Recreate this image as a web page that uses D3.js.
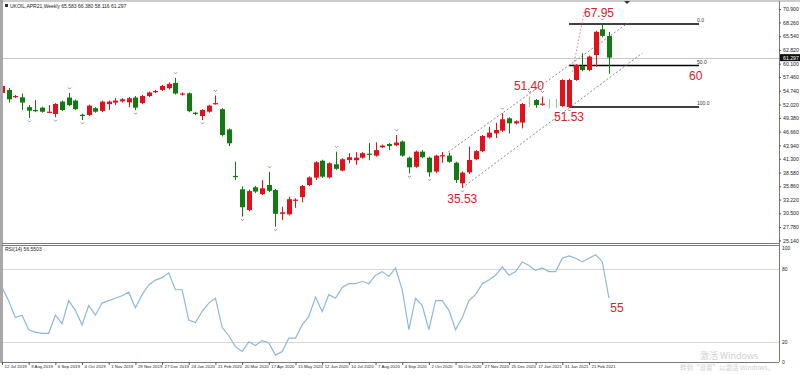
<!DOCTYPE html>
<html><head><meta charset="utf-8">
<script src="https://cdn.jsdelivr.net/npm/d3@7"></script>
<style>body{margin:0;background:#fff}svg{display:block}</style>
</head><body>
<svg id="c" width="800" height="375"></svg>
<script>
// ---------- DATA ----------
const title = "UKOIL,APR21,Weekly  65.583 66.380 58.116 61.297";
const rsiTitle = "RSI(14) 56.5503";
const dateLabels = ["12 Jul 2019","9 Aug 2019","6 Sep 2019","4 Oct 2019","1 Nov 2019","29 Nov 2019","27 Dec 2019","24 Jan 2020","21 Feb 2020","20 Mar 2020","17 Apr 2020","15 May 2020","12 Jun 2020","10 Jul 2020","7 Aug 2020","4 Sep 2020","2 Oct 2020","30 Oct 2020","27 Nov 2020","25 Dec 2020","17 Jan 2021","31 Jan 2021","21 Feb 2021"];
const labelEvery = 4;
const priceTicks = [70.900,68.260,65.540,62.820,60.100,57.460,54.740,52.020,49.380,46.660,43.940,41.300,38.580,35.860,33.220,30.500,27.780,25.140];
const rsiTicks = [100,80,20,0];
const lastPrice = 61.297;
const opens  = [54.30,54.89,53.50,53.45,51.50,50.94,51.40,50.40,50.15,52.60,53.40,52.80,50.00,49.95,51.30,50.75,52.10,52.40,52.65,52.45,53.40,52.30,53.70,54.50,54.90,55.25,56.30,54.00,54.25,50.40,49.75,50.60,52.10,51.10,47.10,37.90,35.25,31.15,35.65,34.30,36.10,35.10,30.40,30.30,33.00,33.70,36.10,37.55,40.90,37.60,40.20,38.95,41.05,41.00,41.50,42.30,41.90,43.55,44.20,43.95,44.70,41.50,39.70,42.70,41.50,38.75,41.80,41.90,40.50,36.45,38.60,41.20,42.80,45.50,46.30,46.85,49.30,48.30,48.45,52.40,52.90,52.00,52.05,52.05,51.70,51.53,56.87,59.64,58.85,61.82,66.90,65.583];
const highs  = [56.10,55.30,53.90,54.20,51.90,52.90,51.60,51.90,52.30,52.80,54.30,53.00,50.20,52.00,51.50,52.80,52.80,53.30,53.30,53.50,53.70,53.90,54.60,54.90,55.90,56.40,57.30,54.40,54.40,50.60,51.10,52.00,53.80,51.30,47.30,40.70,35.80,35.20,35.90,37.10,38.70,35.30,31.80,33.80,33.50,36.10,37.80,40.80,41.10,40.60,42.70,41.40,42.40,42.60,42.60,44.40,44.55,44.10,44.40,46.00,44.90,41.70,42.90,43.00,41.70,42.10,42.60,42.50,40.70,38.80,43.70,43.00,46.00,47.60,48.40,50.30,49.50,48.90,52.30,53.60,53.10,53.60,53.10,53.10,57.00,57.10,60.00,62.15,61.70,66.60,67.95,66.380];
const lows   = [53.90,52.40,53.30,50.94,49.35,50.50,50.40,50.30,49.50,50.70,51.70,50.90,48.96,49.70,50.40,50.50,50.94,51.90,52.40,51.50,50.90,52.10,53.50,54.30,54.70,55.00,54.00,53.80,50.50,49.90,48.96,50.40,52.00,45.70,43.80,37.10,29.85,30.90,34.50,34.10,34.70,27.85,29.20,30.10,31.60,32.70,35.90,37.10,37.50,37.40,39.10,38.80,40.40,40.10,41.30,41.00,41.70,43.40,43.00,43.80,41.70,38.40,39.50,41.40,37.75,38.50,40.50,40.50,36.50,35.53,38.30,41.00,42.60,45.30,45.40,46.60,46.30,48.10,47.30,51.50,51.35,51.80,51.30,51.30,51.50,51.53,56.70,58.60,58.60,59.50,65.30,58.116];
const closes = [55.69,53.05,53.70,52.40,50.80,50.70,50.60,50.60,52.13,50.94,51.90,51.10,49.80,51.80,50.60,52.60,52.60,52.80,53.05,53.25,51.40,53.70,54.40,54.70,55.70,56.10,54.20,54.20,50.70,50.15,50.94,51.80,52.30,45.99,44.35,37.70,31.70,34.90,34.80,35.45,34.95,30.40,30.70,33.30,33.20,35.90,37.60,40.60,37.75,40.40,39.30,41.20,41.60,41.50,42.40,42.10,43.00,43.90,43.80,44.50,41.90,39.60,42.70,41.60,38.60,41.90,42.00,40.70,37.10,38.55,41.05,42.80,45.80,46.45,46.98,49.10,48.30,48.70,52.13,52.30,51.90,52.20,51.95,51.95,56.87,56.87,59.84,58.85,61.50,66.40,65.60,61.297];
const lightBars = [79,82,83];
const fractalUp = [10,26,32,40,50,59,75,79,81,90];
const fractalDown = [4,8,12,20,30,36,41,61,64,69,85];
const rsi = [65,54,40,42,30,28,27,27,42,35,54,46,34,50,42,52,54,56,58,61,48,59,67,71,73,77,63,63,38,36,45,52,56,32,25,16,12,20,17,21,19,9,12,23,23,34,41,57,45,59,56,65,68,68,70,68,75,78,74,81,63,30,56,50,30,54,54,46,30,40,54,59,68,71,75,82,75,78,86,83,79,81,78,78,89,91,89,86,89,92,86,56];
const fibLevels = [67.95, 59.74, 51.53];
const fibNames = ["0.0","50.0","100.0"];
const notes = [{t:"67.95",i:89.5,p:67.95,dy:-7},{t:"51.40",i:79,p:53.6,dy:-7},{t:"51.53",i:85,p:51.53,dy:14},{t:"35.53",i:69,p:35.53,dy:15},{t:"60",i:104,p:59.74,dy:14}];
const channelLow = [{i:69,p:35.53},{i:96,p:62.2}];
const channelHigh = [{i:66.9,p:42.63},{i:93.85,p:68.15}];
const steepLine = [{i:85.5,p:58.5},{i:87.3,p:70.4}];

// ---------- LAYOUT ----------
const svg = d3.select("#c");
const L = 2, R = 779, mainTop = 2, mainBot = 243, rsiTop = 245, rsiBot = 362;
const red = "#e3101b", green = "#127a12", lightGreen = "#7dd87d", noteRed = "#d6202b";
const n = closes.length;
const x = d3.scaleLinear().domain([0, 91]).range([2, 609]);
const y = d3.scaleLinear().domain([25.14, 70.9]).range([240.4, 9.09]);
const yr = d3.scaleLinear().domain([0, 100]).range([366, 245]);

const defs = svg.append("defs");
defs.append("clipPath").attr("id","mc").append("rect").attr("x",L+1).attr("y",mainTop).attr("width",R-L-1).attr("height",mainBot-mainTop);
defs.append("clipPath").attr("id","rc").append("rect").attr("x",L+1).attr("y",rsiTop).attr("width",R-L-1).attr("height",rsiBot-rsiTop);

// frames
svg.append("rect").attr("x",0).attr("y",0).attr("width",3).attr("height",363).attr("fill","#a8a8a8");
svg.append("line").attr("x1",0).attr("x2",800).attr("y1",1).attr("y2",1).attr("stroke","#9a9a9a");
[mainBot, rsiTop, rsiBot].forEach(yy=>svg.append("line").attr("x1",L).attr("x2",R).attr("y1",yy+0.5).attr("y2",yy+0.5).attr("stroke","#7a7a7a"));
svg.append("line").attr("x1",R+0.5).attr("x2",R+0.5).attr("y1",1).attr("y2",rsiBot).attr("stroke","#7a7a7a");

const g = svg.append("g").attr("clip-path","url(#mc)");
g.append("line").attr("x1",L).attr("x2",R).attr("y1",Math.round(y(lastPrice))+0.5).attr("y2",Math.round(y(lastPrice))+0.5).attr("stroke","#c8c8c8");

// fib lines
fibLevels.forEach((p,k)=>{
  g.append("line").attr("x1",x(85)).attr("x2",x(104.5)).attr("y1",y(p)).attr("y2",y(p)).attr("stroke","#000").attr("stroke-width",1.6);
  g.append("text").attr("x",x(104.2)).attr("y",y(p)-2).attr("font-size",5).attr("font-family","Liberation Sans").attr("fill","#333").text(fibNames[k]);
});

// channel lines
const ln = d3.line().x(d=>x(d.i)).y(d=>y(d.p));
[channelLow, channelHigh].forEach(c=>g.append("path").attr("d",ln(c)).attr("stroke","#8a8a8a").attr("stroke-dasharray","2,2").attr("fill","none"));
g.append("path").attr("d",ln(steepLine)).attr("stroke","#e07a8a").attr("stroke-dasharray","1.5,2").attr("fill","none");

// candles
const idx = d3.range(n);
const colorOf = i => lightBars.includes(i) ? lightGreen : (closes[i] >= opens[i] ? red : green);
g.selectAll(".w").data(idx).join("line")
  .attr("x1",i=>Math.round(x(i))+0.5).attr("x2",i=>Math.round(x(i))+0.5)
  .attr("y1",i=>y(highs[i])).attr("y2",i=>y(lows[i])).attr("stroke",colorOf);
g.selectAll(".b").data(idx).join("rect")
  .attr("x",i=>Math.round(x(i))-2).attr("width",5)
  .attr("y",i=>y(Math.max(opens[i],closes[i])))
  .attr("height",i=>Math.max(1.2, Math.abs(y(opens[i])-y(closes[i]))))
  .attr("fill",i=>lightBars.includes(i)?"none":colorOf(i));

// fractal markers
g.selectAll(".fu").data(fractalUp).join("path")
  .attr("d",i=>{const cx=Math.round(x(i))+0.5, cy=y(highs[i])-4; return `M${cx-1.5},${cy-1.5} L${cx},${cy} L${cx+1.5},${cy-1.5}`;})
  .attr("stroke","#777").attr("fill","none").attr("stroke-width",0.8);
g.selectAll(".fd").data(fractalDown).join("path")
  .attr("d",i=>{const cx=Math.round(x(i))+0.5, cy=y(lows[i])+4; return `M${cx-1.5},${cy-1.5} L${cx},${cy} L${cx+1.5},${cy-1.5}`;})
  .attr("stroke","#777").attr("fill","none").attr("stroke-width",0.8);

// notes
notes.forEach(d=>{
  svg.append("text").attr("x",x(d.i)).attr("y",y(d.p)+d.dy).attr("text-anchor","middle")
    .attr("font-family","Liberation Sans, Arial").attr("font-size",12).attr("fill",noteRed).text(d.t);
});

// price axis
const ya = d3.axisRight(y).tickValues(priceTicks).tickSize(2).tickFormat(d3.format(".3f"));
svg.append("g").attr("transform",`translate(${R},0)`).call(ya)
  .call(s=>{s.select(".domain").remove(); s.selectAll("text").attr("font-size",5.2).attr("font-family","Liberation Sans").attr("fill","#222").attr("x",4);
           s.selectAll("line").attr("stroke","#555");});
svg.append("rect").attr("x",R+1).attr("y",y(lastPrice)-3.5).attr("width",20).attr("height",7).attr("fill","#111");
svg.append("text").attr("x",R+4).attr("y",y(lastPrice)+2).attr("font-size",5.2).attr("font-family","Liberation Sans").attr("fill","#fff").text(lastPrice.toFixed(3));

// title
svg.append("rect").attr("x",5).attr("y",4).attr("width",3).attr("height",3).attr("fill","#333");
svg.append("text").attr("x",10).attr("y",8).attr("font-size",5).attr("font-family","Liberation Sans").attr("fill","#222").text(title);
svg.append("path").attr("d","M624,1 L630,1 L627,4 Z").attr("fill","#333");

// RSI
const gr = svg.append("g").attr("clip-path","url(#rc)");
[80,20].forEach(v=>gr.append("line").attr("x1",L).attr("x2",R).attr("y1",Math.round(yr(v))+0.5).attr("y2",Math.round(yr(v))+0.5).attr("stroke","#d8d8d8"));
gr.append("path").datum(rsi).attr("d",d3.line().x((d,i)=>x(i)).y(d=>yr(d))).attr("fill","none").attr("stroke","#8cb8d8").attr("stroke-width",1.2);
svg.append("text").attr("x",5).attr("y",251).attr("font-size",5).attr("font-family","Liberation Sans").attr("fill","#222").text(rsiTitle);
svg.append("text").attr("x",x(92.2)).attr("y",yr(rsi[n-1])+14).attr("text-anchor","middle").attr("font-family","Liberation Sans, Arial").attr("font-size",12).attr("fill",noteRed).text("55");
const rsiPos = {100:247.5,80:269,20:341.5,0:362};
rsiTicks.forEach(v=>{
  svg.append("text").attr("x",R+3).attr("y",rsiPos[v]+2).attr("font-size",5).attr("font-family","Liberation Sans").attr("fill","#222").text(v);
});

// x axis
const xa = d3.axisBottom(x).tickValues(dateLabels.map((d,k)=>k*labelEvery)).tickSize(3).tickFormat((d,k)=>dateLabels[k]);
svg.append("g").attr("transform",`translate(0,${rsiBot})`).call(xa)
  .call(s=>{s.select(".domain").remove(); s.selectAll("line").attr("stroke","#555");
           s.selectAll("text").attr("font-size",4.3).attr("font-family","Liberation Sans").attr("fill","#222").attr("text-anchor","start").attr("x",2).attr("y",3).attr("dy","0.71em");});

// watermark
svg.append("text").attr("x",700).attr("y",359).attr("font-size",9).attr("font-family","Noto Sans CJK SC").attr("fill","#cfcfcf").text("激活 Windows");
svg.append("text").attr("x",680).attr("y",370).attr("font-size",6.5).attr("font-family","Noto Sans CJK SC").attr("fill","#cfcfcf").text("转到“设置”以激活 Windows。");
</script>
</body></html>
